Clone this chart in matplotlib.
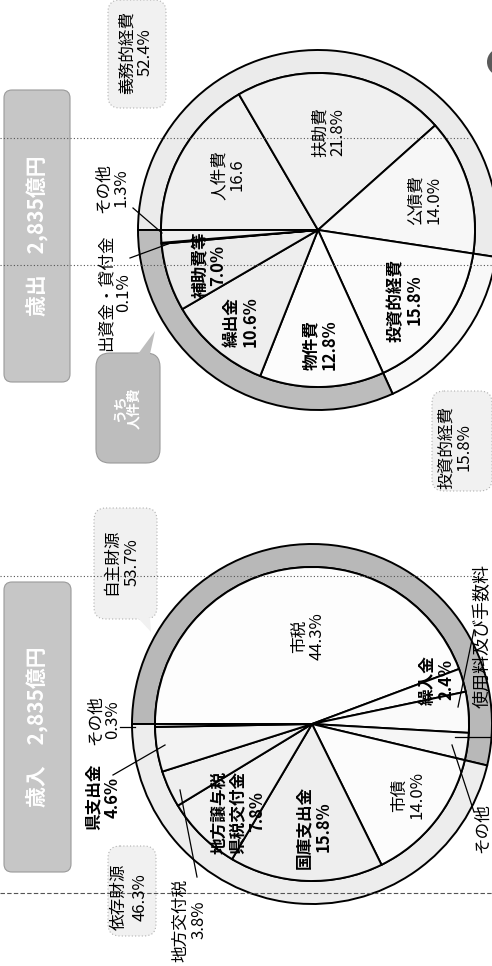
import matplotlib
matplotlib.use('Agg')
import matplotlib.pyplot as plt
from matplotlib.patches import FancyBboxPatch, Circle, Polygon

plt.rcParams['font.family'] = ['Noto Sans CJK JP', 'DejaVu Sans']

# ---------------- data ----------------
# 歳出 (expenditure) - inner pie, clockwise from 9 o'clock of the rotated page
exp_labels = ['人件費', '扶助費', '公債費', '投資的経費', '物件費', '繰出金', '補助費等', '出資金・貸付金', 'その他']
exp_values = [16.6, 21.8, 14.0, 15.8, 12.8, 10.6, 7.0, 0.1, 1.3]
exp_pct_suffix = ['', '%', '%', '%', '%', '%', '%', '%', '%']
exp_group_labels = ['義務的経費', '投資的経費', 'その他']
exp_group_values = [52.4, 15.8, 31.8]

# 歳入 (revenue)
rev_labels = ['市税', '繰入金', '使用料及び手数料', 'その他', '市債', '国庫支出金',
              '地方譲与税\n県税交付金', '地方交付税', '県支出金', 'その他']
rev_values = [44.3, 2.4, 4.2, 2.8, 14.0, 15.8, 7.8, 3.8, 4.6, 0.3]
rev_group_labels = ['自主財源', '依存財源']
rev_group_values = [53.7, 46.3]

# ---------------- style / layout ----------------
W, H = 492, 966
fig = plt.figure(figsize=(W / 100, H / 100), dpi=100)
ax = fig.add_axes([0, 0, 1, 1])

exp_center = (318, 230)
rev_center = (312, 724)
R_IN, R_OUT = 157, 180

exp_colors = ['#efefef', '#f0f0f0', '#f7f7f7', '#fbfbfb', '#fcfcfc', '#eeeeee', '#ebebeb', '#e4e4e4', '#eeeeee']
exp_ring_colors = ['#ebebeb', '#f8f8f8', '#bcbcbc']
rev_colors = ['#fdfdfd', '#fbfbfb', '#fafafa', '#f6f6f6', '#fcfcfc', '#eeeeee', '#f1f1f1', '#efefef', '#f3f3f3', '#e6e6e6']
rev_ring_colors = ['#b8b8b8', '#ededed']

edge = dict(edgecolor='black', linewidth=1.4)

def draw_pie(center, values, colors, ring_values, ring_colors):
    ax.pie(ring_values, colors=ring_colors, center=center, radius=R_OUT,
           startangle=180, counterclock=True, frame=True,
           wedgeprops=dict(width=R_OUT - R_IN, **edge))
    ax.pie(values, colors=colors, center=center, radius=R_IN,
           startangle=180, counterclock=True, frame=True,
           wedgeprops=dict(**edge))

draw_pie(exp_center, exp_values, exp_colors, exp_group_values, exp_ring_colors)
draw_pie(rev_center, rev_values, rev_colors, rev_group_values, rev_ring_colors)

FS = 12
def label(x, y, s, fs=FS, color='black', ls=1.05, **kw):
    ax.text(x, y, s, rotation=90, ha='center', va='center', multialignment='center',
            fontsize=fs, color=color, linespacing=ls, **kw)

def fmt(v, suf='%'):
    return f'{v:.1f}{suf}'

# --- page guide lines ---
ax.plot([0, 470], [138, 138], color='#555555', lw=0.8, ls=(0, (1, 2)))
ax.plot([0, W], [265, 265], color='#555555', lw=0.8, ls=(0, (1, 2)))
ax.plot([0, 480], [576, 576], color='#555555', lw=0.8, ls=(0, (1, 2)))
ax.plot([0, W], [893, 893], color='#555555', lw=0.8, ls=(0, (4, 2)))

# --- title boxes (grey stippled, white text) ---
for (x0, y0, w, h) in [(4, 90, 66, 292), (4, 582, 67, 290)]:
    ax.add_patch(FancyBboxPatch((x0 + 6, y0 + 6), w - 12, h - 12,
                                boxstyle='round,pad=6,rounding_size=8',
                                facecolor='#c6c6c6', edgecolor='#9a9a9a', lw=0.8, zorder=1))
label(37, 236, '歳出　2,835億円', fs=15, color='white', fontweight='bold')
label(37, 727, '歳入　2,835億円', fs=15, color='white', fontweight='bold')

# small dark bubble with tail
ax.add_patch(FancyBboxPatch((103, 360), 50, 96, boxstyle='round,pad=7,rounding_size=14',
                            facecolor='#bdbdbd', edgecolor='#9a9a9a', lw=0.8, zorder=1))
ax.add_patch(Polygon([[138, 354], [150, 354], [155, 331]], closed=True,
                     facecolor='#bdbdbd', edgecolor='none', zorder=1))
label(127, 408, 'うち\n人件費', fs=10, color='white', fontweight='bold')

# light dotted bubbles for group labels
for (x0, y0, w, h) in [(112, 4, 50, 100), (98, 512, 55, 103), (436, 395, 52, 92), (112, 850, 40, 82)]:
    ax.add_patch(FancyBboxPatch((x0, y0), w, h, boxstyle='round,pad=4,rounding_size=12',
                                facecolor='#f1f1f1', edgecolor='#b0b0b0', lw=0.8,
                                ls=(0, (1, 2)), zorder=1))
ax.add_patch(Polygon([[138, 618], [150, 618], [151, 632]], closed=True,
                     facecolor='#f1f1f1', edgecolor='none', zorder=1))

# page-number circle at right edge
ax.add_patch(Circle((501, 62), 14, facecolor='#5a5a5a', edgecolor='none'))

# --- expenditure labels ---
exp_bold = [False, False, False, True, True, True, True, False, False]
exp_pos = [(228, 175), (329, 132), (425, 200), (405, 300), (320, 345), (241, 322), (209, 265),
           (115, 293), (112, 188)]
for (x, y), name, v, suf, b in zip(exp_pos, exp_labels, exp_values, exp_pct_suffix, exp_bold):
    label(x, y, f'{name}\n{fmt(v, suf)}', fontweight='bold' if b else 'normal')
ax.plot([133, 162], [208, 233], color='black', lw=0.9)
ax.plot([130, 168], [258, 244], color='black', lw=0.9)

exp_group_pos = [(136, 52), (455, 447)]
for (x, y), name, v in zip(exp_group_pos, exp_group_labels[:2], exp_group_values[:2]):
    label(x, y, f'{name}\n{fmt(v)}')

# --- revenue labels ---
rev_bold = [False, True, False, False, False, True, True, False, True, False]
rev_pos = [(308, 636), (437, 680), (483, 636), (483, 828), (408, 795), (314, 827),
           (238, 812), (190, 920), (103, 797), (104, 720)]
for i, ((x, y), name, v, b) in enumerate(zip(rev_pos, rev_labels, rev_values, rev_bold)):
    w = 'bold' if b else 'normal'
    if i == 2:
        label(x, y, name, fs=13, fontweight=w)
    elif i == 3:
        label(x, y, name, fontweight=w)
    else:
        label(x, y, f'{name}\n{fmt(v)}', fontweight=w)
ax.plot([113, 165], [775, 745], color='black', lw=0.9)
ax.plot([180, 197], [790, 877], color='black', lw=0.9)
ax.plot([474, 458], [630, 707], color='black', lw=0.9)
ax.plot([452, 474], [745, 812], color='black', lw=0.9)
ax.plot([455, 490], [737, 737], color='black', lw=0.9)
ax.plot([120, 135], [727, 727], color='black', lw=0.9)

rev_group_pos = [(122, 562), (130, 897)]
for (x, y), name, v in zip(rev_group_pos, rev_group_labels, rev_group_values):
    label(x, y, f'{name}\n{fmt(v)}', ls=1.3)

ax.set_xlim(0, W)
ax.set_ylim(H, 0)
ax.set_aspect('equal')
ax.axis('off')
fig.savefig('out.png', dpi=100, facecolor='white')
